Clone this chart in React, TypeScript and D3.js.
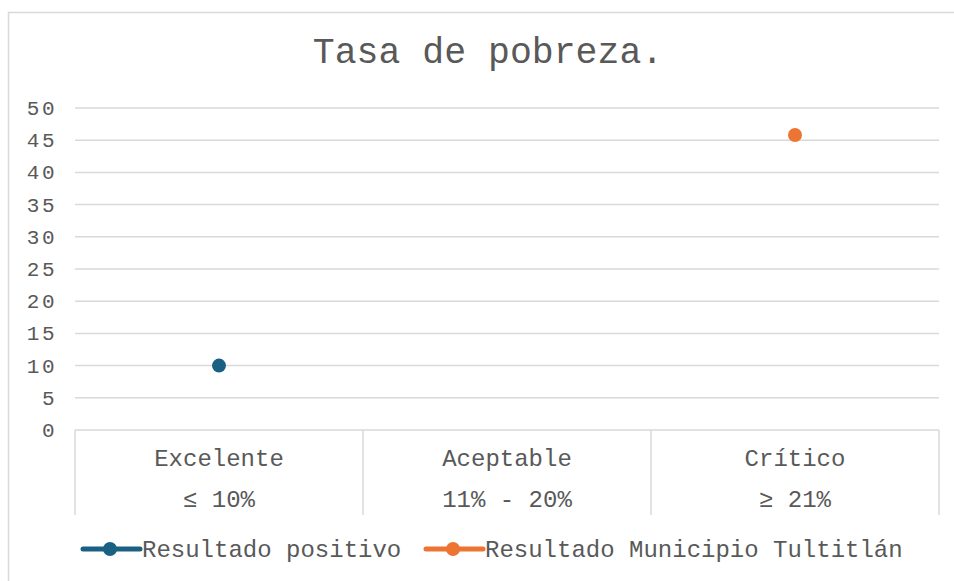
import React from 'react';
import * as d3 from 'd3';

const categories = ['Excelente', 'Aceptable', 'Crítico'];
const ranges = ['≤ 10%', '11% - 20%', '≥ 21%'];
const yTicks = [0, 5, 10, 15, 20, 25, 30, 35, 40, 45, 50];

// one point per series, placed on its category
const positivo = [{ cat: 'Excelente', value: 10 }];
const municipio = [{ cat: 'Crítico', value: 45.8 }];

const seriesNames = ['Resultado positivo', 'Resultado Municipio Tultitlán'];
const colors = ['#1a6083', '#ed7533'];

const width = 954;
const height = 581;
const Margin = { top: 108, right: 15, bottom: 151, left: 75 };
const font = '"Liberation Mono", "Courier New", monospace';
const textColor = '#595959';
const gridColor = '#d9d9d9';

const App = () => {
  const x = d3.scaleBand().domain(categories).range([Margin.left, width - Margin.right]);
  const y = d3.scaleLinear().domain([0, 50]).range([height - Margin.bottom, Margin.top]);
  const y0 = y(0);
  const edges = d3.range(categories.length + 1).map(i => Margin.left + i * x.bandwidth());

  const series = [positivo, municipio];

  return (
    <svg width={width} height={height} style={{ position: 'absolute', left: 0, top: 0 }}>
      <rect x={8.5} y={12.5} width={960} height={600} fill="#fff" stroke={gridColor} strokeWidth={1.5} />
      <text x={488} y={63} textAnchor="middle" fontFamily={font} fontSize={36.5} fill={textColor}>
        Tasa de pobreza.
      </text>
      {yTicks.map(t => (
        <g key={t}>
          <line x1={Margin.left} x2={width - Margin.right} y1={y(t)} y2={y(t)} stroke={gridColor} strokeWidth={1.5} />
          <text x={57} y={y(t) + 7} textAnchor="end" fontFamily={font} fontSize={21} letterSpacing={2.5} fill={textColor}>{t}</text>
        </g>
      ))}
      {edges.map((e, i) => (
        <line key={i} x1={e} x2={e} y1={y0} y2={515} stroke={gridColor} strokeWidth={1.5} />
      ))}
      {categories.map((c, i) => (
        <g key={c}>
          <text x={x(c)! + x.bandwidth() / 2} y={466} textAnchor="middle" fontFamily={font} fontSize={24} fill={textColor}>{c}</text>
          <text x={x(c)! + x.bandwidth() / 2} y={507} textAnchor="middle" fontFamily={font} fontSize={24} fill={textColor}>{ranges[i]}</text>
        </g>
      ))}
      {series.map((s, si) =>
        s.map(d => (
          <circle key={si + d.cat} cx={x(d.cat)! + x.bandwidth() / 2} cy={y(d.value)} r={7} fill={colors[si]} />
        ))
      )}
      {seriesNames.map((n, i) => {
        const lx = i === 0 ? 83 : 426;
        return (
          <g key={n}>
            <line x1={lx} x2={lx + 57} y1={549} y2={549} stroke={colors[i]} strokeWidth={5} strokeLinecap="round" />
            <circle cx={lx + 27} cy={549} r={7} fill={colors[i]} />
            <text x={lx + 59} y={557} fontFamily={font} fontSize={24} fill={textColor}>{n}</text>
          </g>
        );
      })}
    </svg>
  );
};

export default App;
